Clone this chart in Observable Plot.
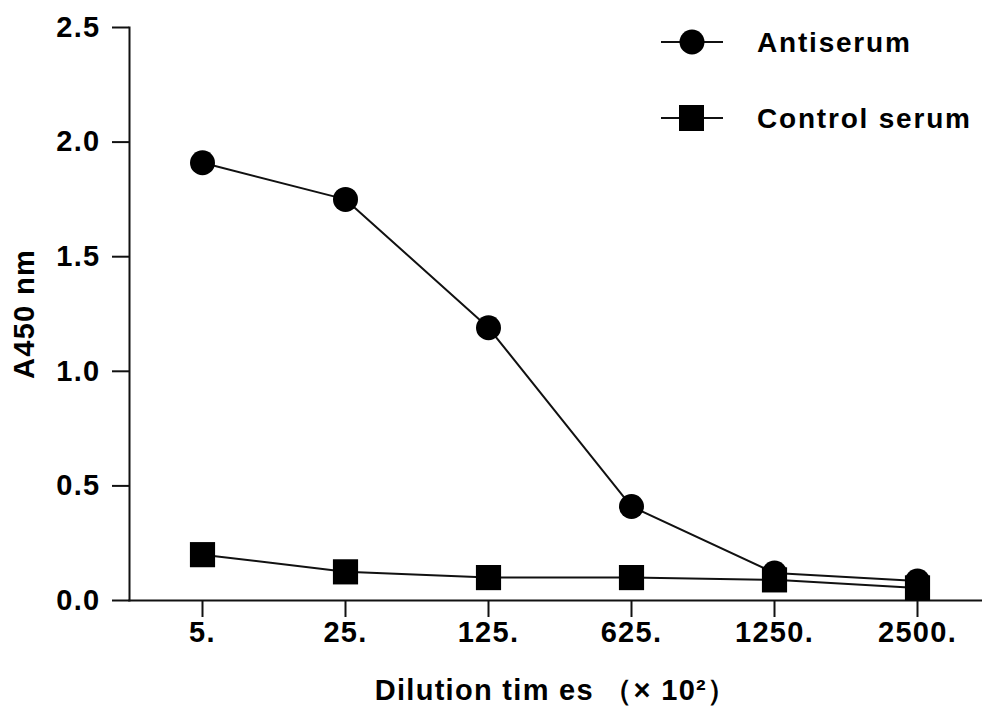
<!DOCTYPE html>
<html>
<head>
<meta charset="utf-8">
<script src="https://cdn.jsdelivr.net/npm/d3@7"></script>
<script src="https://cdn.jsdelivr.net/npm/@observablehq/plot@0.6"></script>
<style>
  html, body { margin: 0; padding: 0; background: #fff; }
  #wrap { position: relative; width: 982px; height: 717px; overflow: hidden; }
  #legend { position: absolute; left: 0; top: 0; pointer-events: none; }
  svg text { font-family: "Liberation Sans", Arial, sans-serif; font-weight: bold; }
</style>
</head>
<body>
<div id="wrap"></div>
<script>
const dilutions = ["5.", "25.", "125.", "625.", "1250.", "2500."];
const antiserum = [1.91, 1.75, 1.19, 0.41, 0.12, 0.085];
const controlSerum = [0.20, 0.125, 0.10, 0.10, 0.09, 0.055];
const yTicks = [0, 0.5, 1.0, 1.5, 2.0, 2.5];
const seriesNames = ["Antiserum", "Control serum"];
const xTitle = "Dilution tim es （× 10²）";
const yTitle = "A450 nm";

const anti = dilutions.map((d, i) => ({x: d, y: antiserum[i]}));
const ctrl = dilutions.map((d, i) => ({x: d, y: controlSerum[i]}));

const font = "Liberation Sans, Arial, sans-serif";

const chart = Plot.plot({
  width: 982,
  height: 717,
  marginLeft: 129,
  marginRight: 0,
  marginTop: 27,
  marginBottom: 117,
  style: {fontFamily: font, fontWeight: "bold", color: "#000", background: "#fff", overflow: "visible"},
  x: {type: "point", domain: dilutions, range: [201, 918], padding: 0},
  y: {domain: [0, 2.5]},
  marks: [
    Plot.frame({anchor: "left", stroke: "#111", strokeWidth: 2}),
    Plot.frame({anchor: "bottom", stroke: "#111", strokeWidth: 2}),
    Plot.axisY(yTicks, {
      tickSize: 17, tickPadding: 12, tickFormat: d3.format(".1f"),
      fontSize: 29, strokeWidth: 2, stroke: "#111",
      label: yTitle, labelAnchor: "center", labelOffset: 116, labelArrow: "none"
    }),
    Plot.axisX(dilutions, {
      tickSize: 17, tickPadding: 4, fontSize: 29, strokeWidth: 2, stroke: "#111",
      label: xTitle, labelAnchor: "center", labelOffset: 99, labelArrow: "none"
    }),
    Plot.line(anti, {x: "x", y: "y", stroke: "#111", strokeWidth: 2}),
    Plot.dot(anti, {x: "x", y: "y", r: 12.5, fill: "#000", stroke: "none"}),
    Plot.line(ctrl, {x: "x", y: "y", stroke: "#111", strokeWidth: 2}),
    Plot.dot(ctrl, {x: "x", y: "y", symbol: "square", r: 14.2, fill: "#000", stroke: "none"})
  ]
});

chart.querySelectorAll("text").forEach(t => t.style.letterSpacing = "1.3px");
document.getElementById("wrap").appendChild(chart);

// legend overlay
const lg = d3.select("#wrap").append("svg").attr("id", "legend")
  .attr("width", 982).attr("height", 160);
const items = [
  {name: seriesNames[0], shape: "circle", y: 42},
  {name: seriesNames[1], shape: "square", y: 118}
];
items.forEach(it => {
  lg.append("line").attr("x1", 661).attr("x2", 723).attr("y1", it.y).attr("y2", it.y)
    .attr("stroke", "#111").attr("stroke-width", 2);
  if (it.shape === "circle") {
    lg.append("circle").attr("cx", 692).attr("cy", it.y).attr("r", 12.5).attr("fill", "#000");
  } else {
    lg.append("rect").attr("x", 679).attr("y", it.y - 13).attr("width", 25).attr("height", 26).attr("fill", "#000");
  }
  lg.append("text").attr("x", 757).attr("y", it.y).attr("dy", "0.36em")
    .attr("font-size", 28).attr("font-weight", "bold")
    .style("letter-spacing", "1.8px").attr("fill", "#000").text(it.name);
});
</script>
</body>
</html>
